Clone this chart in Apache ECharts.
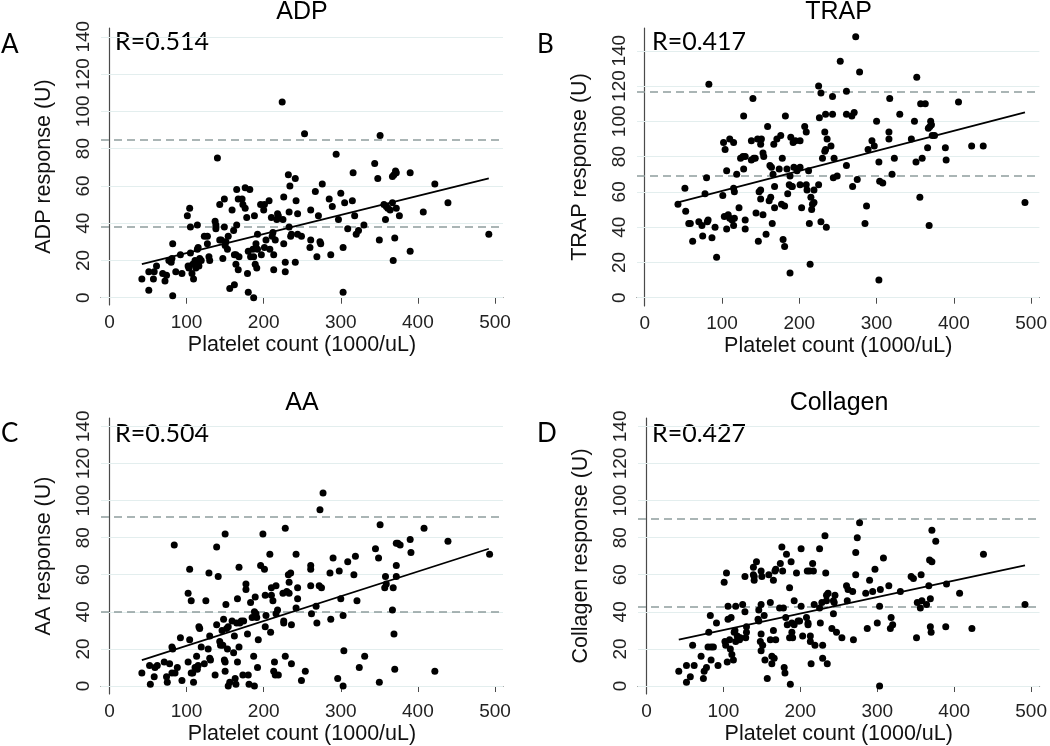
<!DOCTYPE html>
<html>
<head>
<meta charset="utf-8">
<script src="https://cdn.jsdelivr.net/npm/echarts@6/dist/echarts.min.js"></script>
<style>html,body{margin:0;padding:0;background:#fff}#c{width:1050px;height:746px}</style>
</head>
<body>
<div id="c"></div>
<script>
const panelTitles = ['ADP', 'TRAP', 'AA', 'Collagen'];
const panelLetters = ['A', 'B', 'C', 'D'];
const rLabels = ['R=0.514', 'R=0.417', 'R=0.504', 'R=0.427'];
const yAxisTitles = ['ADP response (U)', 'TRAP response (U)', 'AA response (U)', 'Collagen response (U)'];
const xAxisTitle = 'Platelet count (1000/uL)';
const xTicks = [0, 100, 200, 300, 400, 500];
const yTicks = [0, 20, 40, 60, 80, 100, 120, 140];
const refLines = [[85, 38], [117, 69], [91, 40], [90, 43]];
const fitLines = [[[42, 18], [492, 64]], [[43, 54], [492, 105]], [[42, 14], [492, 74]], [[42, 25], [492, 65]]];

const adpData = [[42,10],[51,4],[51,14],[57,10],[58,14],[61,17],[69,13],[72,9],[74,12],[77,20],[80,19],[81,21],[82,29],[82,1],[86,14],[92,23],[94,13],[101,44],[102,17],[103,16],[104,48],[105,38],[105,24],[107,13],[108,18],[109,10],[111,20],[112,16],[114,39],[114,19],[114,26],[115,27],[116,17],[117,21],[119,20],[123,33],[127,33],[127,29],[129,22],[130,20],[137,41],[138,37],[138,39],[140,75],[143,50],[143,31],[145,31],[147,21],[149,53],[149,38],[150,28],[151,30],[153,26],[154,33],[156,5],[159,47],[161,36],[162,23],[162,7],[164,23],[164,18],[165,39],[165,58],[167,15],[167,53],[168,22],[172,53],[173,50],[176,48],[176,59],[178,43],[179,13],[180,3],[180,25],[182,58],[183,22],[186,26],[187,22],[187,0],[188,44],[189,18],[190,29],[191,16],[192,26],[192,34],[196,50],[197,23],[200,47],[201,50],[201,27],[203,31],[207,52],[208,26],[210,43],[211,33],[212,35],[213,23],[213,15],[215,31],[217,42],[218,45],[219,44],[224,105],[226,29],[226,54],[225,42],[228,19],[228,14],[232,66],[233,46],[233,38],[234,60],[235,33],[236,34],[241,64],[242,52],[241,19],[244,45],[244,34],[249,33],[253,88],[261,47],[260,27],[261,31],[267,57],[269,22],[271,44],[273,30],[274,29],[276,61],[285,53],[287,23],[289,49],[294,77],[297,42],[300,56],[303,27],[303,3],[305,51],[309,37],[315,52],[316,67],[318,44],[320,34],[323,36],[330,39],[344,72],[348,64],[350,31],[351,87],[356,50],[358,42],[359,49],[361,48],[364,47],[367,51],[367,65],[368,20],[369,66],[371,68],[372,48],[370,32],[372,67],[376,44],[390,67],[390,25],[407,46],[422,61],[439,51],[492,34]];

const trapData = [[43,53],[52,62],[53,49],[57,42],[59,42],[62,32],[70,43],[74,41],[75,35],[78,59],[80,68],[81,43],[82,44],[83,121],[87,34],[91,40],[93,23],[101,58],[102,88],[103,46],[104,84],[106,39],[106,72],[108,47],[110,90],[110,45],[113,44],[115,88],[115,62],[115,41],[116,60],[116,45],[119,70],[122,51],[124,79],[127,80],[128,103],[128,73],[130,80],[130,44],[130,39],[138,78],[138,89],[140,113],[141,79],[143,79],[144,48],[146,90],[147,32],[148,60],[150,61],[150,56],[150,87],[151,90],[153,47],[153,82],[154,80],[157,36],[159,97],[161,55],[162,75],[163,57],[164,74],[165,42],[166,70],[167,87],[168,63],[168,51],[171,90],[174,73],[176,92],[177,53],[178,79],[179,33],[181,52],[181,29],[182,103],[184,73],[185,59],[187,64],[188,14],[188,69],[189,91],[190,63],[191,63],[192,88],[193,74],[195,89],[197,72],[201,89],[201,74],[201,64],[203,51],[207,97],[209,64],[209,94],[210,61],[212,72],[213,42],[214,19],[215,57],[216,50],[217,53],[219,61],[219,54],[225,64],[225,120],[226,102],[228,116],[228,43],[230,79],[233,94],[233,83],[234,104],[234,84],[235,40],[236,90],[241,86],[243,114],[243,104],[244,68],[245,79],[249,69],[253,134],[261,117],[261,75],[261,104],[268,103],[269,63],[271,105],[273,148],[275,67],[278,128],[285,42],[287,52],[289,84],[294,89],[297,86],[300,100],[303,77],[303,10],[304,66],[308,65],[316,94],[316,90],[317,113],[320,70],[323,79],[330,104],[345,90],[349,100],[351,77],[352,125],[356,57],[357,110],[359,79],[363,110],[366,85],[367,96],[368,41],[369,97],[370,100],[371,98],[372,92],[375,92],[389,85],[390,78],[406,111],[423,86],[438,86],[492,54]];

const aaData = [[42,7],[52,11],[53,1],[58,5],[59,10],[62,11],[71,13],[74,5],[75,2],[78,12],[81,7],[81,21],[82,20],[84,76],[85,7],[88,10],[92,26],[94,3],[102,50],[102,13],[104,25],[104,63],[106,7],[106,46],[108,7],[109,2],[111,10],[113,16],[113,10],[114,9],[115,11],[116,32],[117,31],[119,21],[123,12],[125,46],[128,20],[129,61],[130,27],[130,15],[131,14],[137,6],[139,75],[139,33],[141,59],[143,24],[144,22],[146,30],[147,22],[148,36],[149,14],[150,82],[150,13],[150,8],[151,44],[152,31],[153,20],[154,32],[154,0],[156,2],[159,35],[161,18],[162,27],[163,4],[164,1],[165,34],[166,13],[166,47],[168,21],[168,64],[169,34],[171,35],[173,6],[174,35],[177,55],[177,52],[179,28],[180,6],[181,1],[183,45],[185,37],[187,16],[188,0],[188,40],[189,48],[190,39],[191,37],[192,10],[193,25],[196,65],[199,82],[201,63],[202,49],[202,32],[203,38],[208,71],[209,29],[210,49],[210,53],[212,46],[213,8],[214,13],[215,6],[216,54],[216,39],[218,41],[219,6],[225,50],[226,35],[226,34],[228,85],[228,16],[230,51],[232,60],[233,56],[233,50],[235,61],[236,12],[236,33],[242,42],[242,71],[244,47],[244,53],[249,3],[254,8],[261,65],[261,63],[261,54],[262,39],[268,43],[269,34],[272,54],[273,95],[275,53],[277,104],[286,61],[287,36],[290,69],[296,4],[298,62],[300,47],[303,38],[303,0],[304,19],[309,67],[317,60],[319,70],[321,46],[324,10],[331,16],[345,74],[349,69],[350,2],[351,87],[357,53],[358,59],[359,55],[367,41],[368,53],[369,28],[370,9],[372,65],[372,59],[372,77],[374,77],[377,76],[390,79],[391,72],[408,85],[422,8],[439,78],[493,71]];

const collagenData = [[42,8],[52,11],[52,2],[57,5],[60,22],[62,11],[71,16],[74,4],[75,8],[78,10],[80,21],[81,29],[83,38],[84,14],[84,21],[87,21],[91,34],[93,11],[101,56],[102,24],[103,22],[104,61],[105,13],[106,36],[106,43],[108,25],[109,20],[110,37],[111,17],[113,14],[114,29],[115,30],[116,43],[116,24],[118,27],[121,25],[122,26],[125,44],[128,40],[128,59],[129,26],[130,32],[130,29],[139,64],[139,60],[140,57],[140,59],[143,67],[145,36],[146,41],[146,35],[148,24],[149,19],[149,62],[149,44],[149,28],[150,59],[151,22],[153,38],[154,14],[157,4],[159,60],[161,25],[161,45],[163,16],[163,12],[165,30],[165,57],[166,15],[167,62],[168,25],[168,63],[173,42],[174,66],[176,75],[177,62],[178,42],[179,10],[180,7],[181,37],[182,71],[183,33],[186,53],[187,1],[186,26],[188,67],[189,34],[189,29],[190,26],[192,46],[192,33],[195,61],[197,35],[199,35],[201,74],[201,43],[203,27],[208,37],[209,62],[210,33],[210,34],[212,62],[213,24],[213,27],[214,12],[216,66],[217,62],[218,44],[219,22],[225,74],[226,34],[225,42],[228,45],[229,15],[229,22],[232,81],[233,61],[234,46],[234,49],[235,12],[236,50],[241,31],[243,39],[243,46],[244,45],[245,49],[247,29],[254,26],[260,54],[261,46],[262,52],[268,51],[269,25],[272,60],[272,72],[274,80],[277,88],[285,50],[287,31],[290,57],[294,51],[297,63],[300,34],[303,43],[303,0],[304,52],[308,69],[315,54],[317,31],[318,37],[320,33],[330,51],[344,59],[347,58],[351,26],[352,45],[356,42],[357,60],[358,46],[364,44],[367,54],[368,68],[369,32],[369,47],[371,67],[370,29],[371,84],[376,78],[389,32],[390,55],[407,50],[423,31],[438,71],[492,44]];

const panelData = [adpData, trapData, aaData, collagenData];

const grids = [
  {left: 101, top: 28, width: 402, height: 277},
  {left: 637, top: 28, width: 403, height: 278},
  {left: 101, top: 418, width: 402, height: 277},
  {left: 638, top: 418, width: 402, height: 277}
];
const xRanges = [[-11, 510.4], [-10, 510.7], [-11, 510.4], [-11, 510.9]];
const yRanges = [[-3.9, 144.7], [-4.7, 152.9], [-4.3, 144.5], [-4.3, 144.5]];

const axisFont = 'Liberation Sans, Arial, sans-serif';
const axisColor = '#4a4a4a';

const xAxes = [], yAxes = [], series = [], graphics = [];
for (let i = 0; i < 4; i++) {
  xAxes.push({
    type: 'value', gridIndex: i, min: xRanges[i][0], max: xRanges[i][1],
    name: xAxisTitle, nameLocation: 'middle', nameGap: 29,
    nameTextStyle: {fontFamily: axisFont, fontSize: 21.5, color: '#111'},
    axisLine: {show: true, lineStyle: {color: axisColor, width: 1.2}},
    axisTick: {show: true, length: 6, customValues: xTicks, lineStyle: {color: axisColor}},
    axisLabel: {customValues: xTicks, margin: 8, fontFamily: axisFont, fontSize: 19, color: '#222'},
    splitLine: {show: false}
  });
  yAxes.push({
    type: 'value', gridIndex: i, min: yRanges[i][0], max: yRanges[i][1],
    name: yAxisTitles[i], nameLocation: 'middle', nameGap: 46,
    nameTextStyle: {fontFamily: axisFont, fontSize: 21.5, color: '#111'},
    axisLine: {show: true, lineStyle: {color: axisColor, width: 1.2}},
    axisTick: {show: true, length: 6, customValues: yTicks, lineStyle: {color: axisColor}},
    axisLabel: {customValues: yTicks, rotate: 90, margin: 8, fontFamily: axisFont, fontSize: 19, color: '#222'},
    splitLine: {show: false}
  });
  series.push({
    type: 'line', xAxisIndex: i, yAxisIndex: i, data: [], silent: true, z: 1,
    markLine: {
      silent: true, symbol: 'none', z: 1, animation: false,
      label: {show: false},
      lineStyle: {color: '#e3eeee', type: 'solid', width: 1},
      data: yTicks.map(v => ({yAxis: v}))
    }
  });
  series.push({
    type: 'scatter', xAxisIndex: i, yAxisIndex: i, data: panelData[i], z: 3,
    symbol: 'circle', symbolSize: 7,
    itemStyle: {color: '#000', opacity: 1},
    markLine: {
      silent: true, symbol: 'none', z: 2, animation: false,
      label: {show: false},
      lineStyle: {color: '#8f9d9d', type: [8, 5], width: 1.5},
      data: refLines[i].map(v => ({yAxis: v}))
    }
  });
  series.push({
    type: 'line', xAxisIndex: i, yAxisIndex: i, data: fitLines[i], z: 4,
    symbol: 'none', lineStyle: {color: '#000', width: 1.8}
  });
  const cx = grids[i].left + grids[i].width / 2;
  const rowTop = i < 2 ? 0 : 391;
  graphics.push({type: 'text', x: cx, y: rowTop + 12, style: {text: panelTitles[i], font: '25px ' + axisFont, fill: '#000', textAlign: 'center', textVerticalAlign: 'middle'}});
  const lx = i % 2 === 0 ? 1 : 537;
  const ly = i < 2 ? 45 : 434;
  graphics.push({type: 'text', x: lx, y: ly, style: {text: panelLetters[i], font: '26px Lato, sans-serif', fill: '#000', textAlign: 'left', textVerticalAlign: 'middle'}});
  const rx = i % 2 === 0 ? 115 : 652;
  const ry = i < 2 ? 42 : 434;
  graphics.push({type: 'text', x: rx, y: ry, style: {text: rLabels[i], font: '25px Lato, sans-serif', fill: '#000', textAlign: 'left', textVerticalAlign: 'middle'}});
}

const chart = echarts.init(document.getElementById('c'), null, {renderer: 'canvas'});
chart.setOption({
  animation: false,
  backgroundColor: '#fff',
  grid: grids,
  xAxis: xAxes,
  yAxis: yAxes,
  series: series,
  graphic: graphics
});
</script>
</body>
</html>
